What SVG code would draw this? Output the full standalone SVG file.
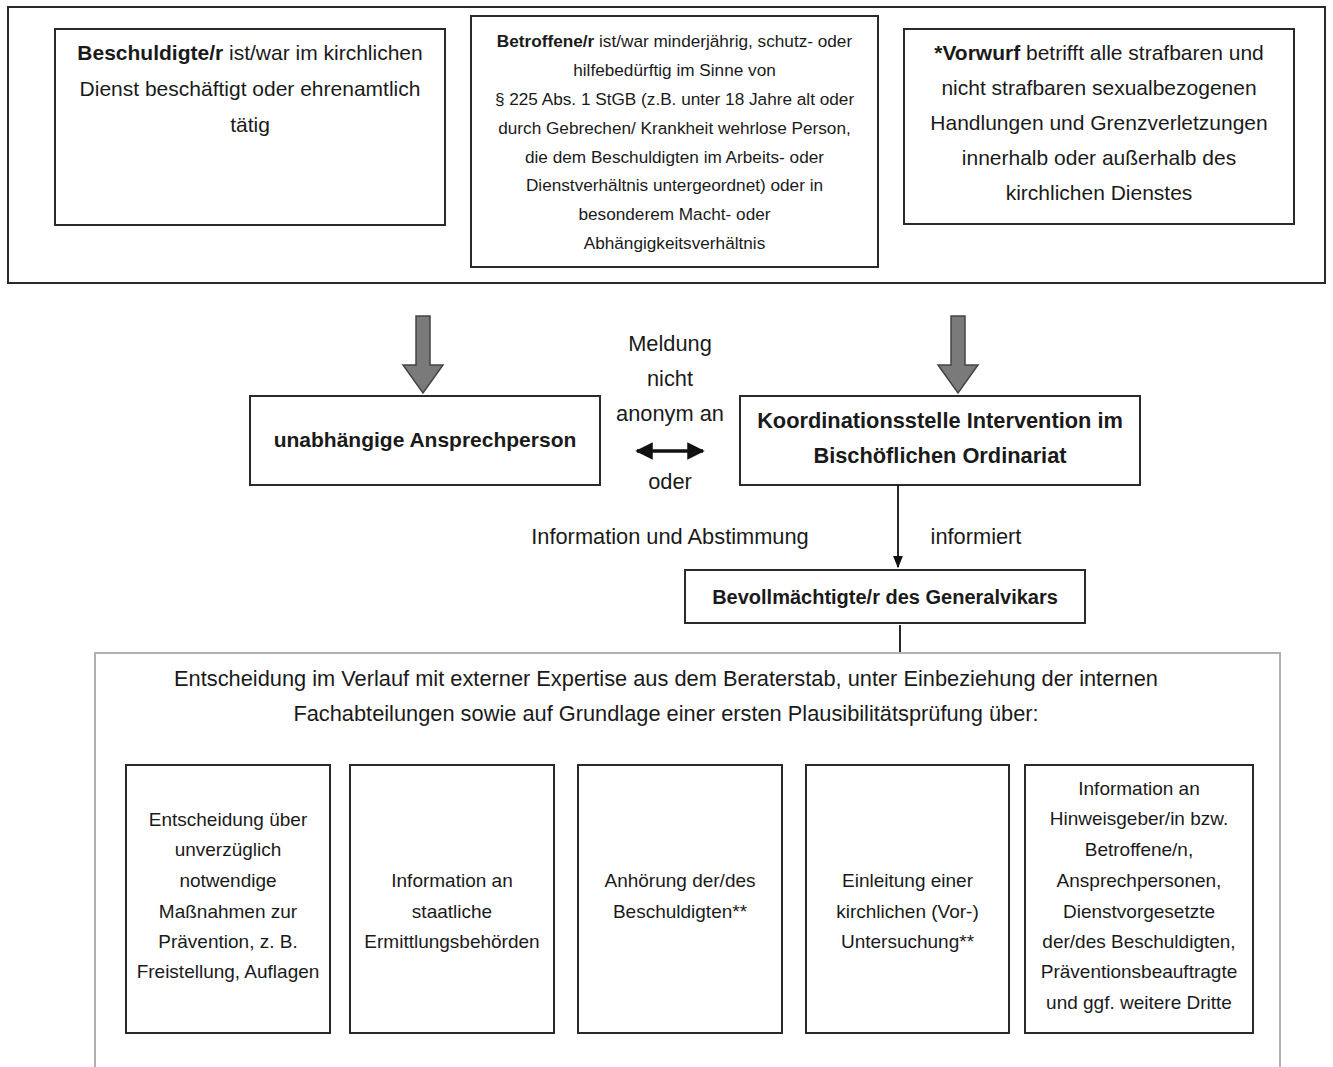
<svg xmlns="http://www.w3.org/2000/svg" width="1333" height="1067" viewBox="0 0 1333 1067">
<defs>
<style>
text{font-family:"Liberation Sans",Arial,sans-serif;fill:#1a1a1a;text-anchor:middle}
.t20{font-size:21px}
.t22{font-size:21.8px}
.t17{font-size:17.2px}
.t19{font-size:19px}
.b{font-weight:bold}
.box{fill:#fff;stroke:#2a2a2a;stroke-width:2}
.lbox{fill:#fff;stroke:#b0b0b0;stroke-width:2}
.garrow{fill:#7a7a7a;stroke:#444;stroke-width:1.5}
</style>
<marker id="ah" viewBox="0 0 10 10" refX="9" refY="5" markerWidth="5" markerHeight="5" orient="auto-start-reverse">
<path d="M0,0 L10,5 L0,10 z" fill="#111"/>
</marker>
<marker id="ah2" viewBox="0 0 10 10" refX="9" refY="5" markerWidth="7" markerHeight="7" orient="auto">
<path d="M0,1 L10,5 L0,9 z" fill="#111"/>
</marker>
</defs>
<rect width="1333" height="1067" fill="#fff"/>

<g id="top-frame">
<rect x="8" y="7" width="1317" height="276" fill="none" stroke="#2a2a2a" stroke-width="2"/>
</g>

<g id="node-beschuldigte">
<rect class="box" x="55" y="29" width="390" height="196"/>
<text class="t20" x="250" y="60"><tspan class="b">Beschuldigte/r</tspan> ist/war im kirchlichen</text>
<text class="t20" x="250" y="96">Dienst beschäftigt oder ehrenamtlich</text>
<text class="t20" x="250" y="132">tätig</text>
</g>

<g id="node-betroffene">
<rect class="box" x="471" y="16" width="407" height="251"/>
<text class="t17" x="674.5" y="47"><tspan class="b">Betroffene/r</tspan> ist/war minderjährig, schutz- oder</text>
<text class="t17" x="674.5" y="76">hilfebedürftig im Sinne von</text>
<text class="t17" x="674.5" y="105">§ 225 Abs. 1 StGB (z.B. unter 18 Jahre alt oder</text>
<text class="t17" x="674.5" y="134">durch Gebrechen/ Krankheit wehrlose Person,</text>
<text class="t17" x="674.5" y="163">die dem Beschuldigten im Arbeits- oder</text>
<text class="t17" x="674.5" y="191">Dienstverhältnis untergeordnet) oder in</text>
<text class="t17" x="674.5" y="220">besonderem Macht- oder</text>
<text class="t17" x="674.5" y="249">Abhängigkeitsverhältnis</text>
</g>

<g id="node-vorwurf">
<rect class="box" x="904" y="29" width="390" height="195"/>
<text class="t20" x="1099" y="60"><tspan class="b">*Vorwurf</tspan> betrifft alle strafbaren und</text>
<text class="t20" x="1099" y="95">nicht strafbaren sexualbezogenen</text>
<text class="t20" x="1099" y="130">Handlungen und Grenzverletzungen</text>
<text class="t20" x="1099" y="165">innerhalb oder außerhalb des</text>
<text class="t20" x="1099" y="200">kirchlichen Dienstes</text>
</g>

<g id="node-ansprechperson">
<rect class="box" x="250" y="396" width="350" height="89"/>
<text class="t20 b" x="425" y="447">unabhängige Ansprechperson</text>
</g>

<g id="node-koordination">
<rect class="box" x="740" y="396" width="400" height="89"/>
<text class="t22 b" x="940" y="428">Koordinationsstelle Intervention im</text>
<text class="t22 b" x="940" y="463">Bischöflichen Ordinariat</text>
</g>

<g id="node-bevollmaechtigte">
<rect class="box" x="685" y="570" width="400" height="53"/>
<text class="b" style="font-size:20px" x="885" y="604">Bevollmächtigte/r des Generalvikars</text>
</g>

<g id="node-entscheidung">
<rect class="lbox" x="95" y="653" width="1185" height="430"/>
<text class="t22" x="666" y="686">Entscheidung im Verlauf mit externer Expertise aus dem Beraterstab, unter Einbeziehung der internen</text>
<text class="t22" x="666" y="721">Fachabteilungen sowie auf Grundlage einer ersten Plausibilitätsprüfung über:</text>
</g>

<g id="node-massnahmen">
<rect class="box" x="126" y="765" width="204" height="268"/>
<text class="t19" x="228" y="826">Entscheidung über</text>
<text class="t19" x="228" y="856">unverzüglich</text>
<text class="t19" x="228" y="887">notwendige</text>
<text class="t19" x="228" y="918">Maßnahmen zur</text>
<text class="t19" x="228" y="948">Prävention, z. B.</text>
<text class="t19" x="228" y="978">Freistellung, Auflagen</text>
</g>

<g id="node-behoerden">
<rect class="box" x="350" y="765" width="204" height="268"/>
<text class="t19" x="452" y="887">Information an</text>
<text class="t19" x="452" y="918">staatliche</text>
<text class="t19" x="452" y="948">Ermittlungsbehörden</text>
</g>

<g id="node-anhoerung">
<rect class="box" x="578" y="765" width="204" height="268"/>
<text class="t19" x="680" y="887">Anhörung der/des</text>
<text class="t19" x="680" y="918">Beschuldigten**</text>
</g>

<g id="node-untersuchung">
<rect class="box" x="806" y="765" width="203" height="268"/>
<text class="t19" x="907.5" y="887">Einleitung einer</text>
<text class="t19" x="907.5" y="918">kirchlichen (Vor-)</text>
<text class="t19" x="907.5" y="948">Untersuchung**</text>
</g>

<g id="node-information">
<rect class="box" x="1025" y="765" width="228" height="268"/>
<text class="t19" x="1139" y="795">Information an</text>
<text class="t19" x="1139" y="825">Hinweisgeber/in bzw.</text>
<text class="t19" x="1139" y="856">Betroffene/n,</text>
<text class="t19" x="1139" y="887">Ansprechpersonen,</text>
<text class="t19" x="1139" y="918">Dienstvorgesetzte</text>
<text class="t19" x="1139" y="948">der/des Beschuldigten,</text>
<text class="t19" x="1139" y="978">Präventionsbeauftragte</text>
<text class="t19" x="1139" y="1009">und ggf. weitere Dritte</text>
</g>

<g id="connectors">
<path class="garrow" d="M416,316 H430 V365 H443 L423,393 L403,365 H416 Z"/>
<path class="garrow" d="M951,316 H965 V365 H978 L958,393 L938,365 H951 Z"/>
<line x1="637" y1="451" x2="703" y2="451" stroke="#111" stroke-width="3.5" marker-start="url(#ah)" marker-end="url(#ah)"/>
<line x1="898" y1="485" x2="898" y2="567" stroke="#111" stroke-width="1.8" marker-end="url(#ah2)"/>
<line x1="900" y1="625" x2="900" y2="652" stroke="#111" stroke-width="1.8"/>
<text class="t22" x="670" y="351">Meldung</text>
<text class="t22" x="670" y="386">nicht</text>
<text class="t22" x="670" y="421">anonym an</text>
<text class="t22" x="670" y="489">oder</text>
<text class="t22" x="670" y="544">Information und Abstimmung</text>
<text class="t22" x="976" y="544">informiert</text>
</g>
</svg>
